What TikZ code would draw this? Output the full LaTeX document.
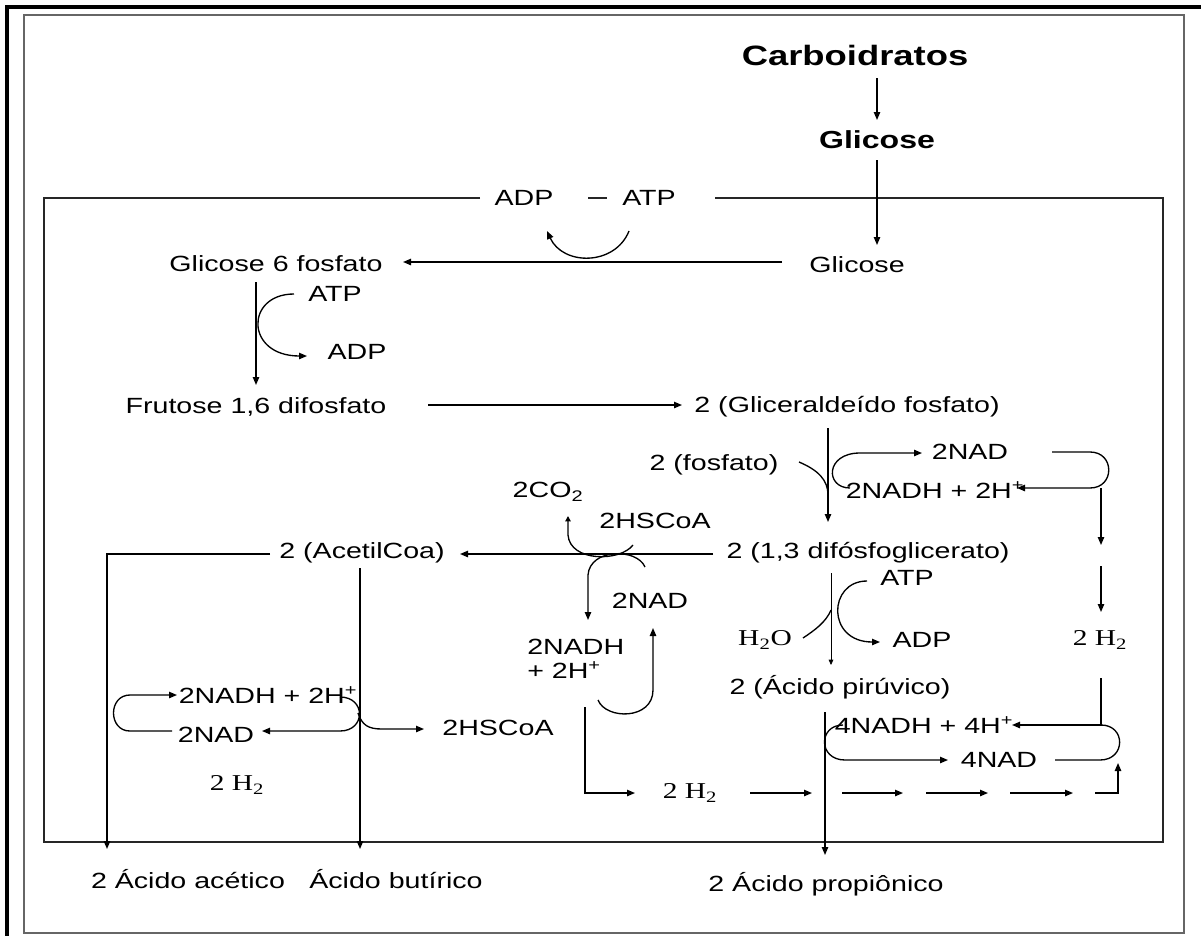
\documentclass[tikz,border=0pt]{standalone}
\usepackage{fontspec}
\setmainfont{Liberation Sans}[FakeStretch=1.3]
\newfontfamily\tnr{Liberation Serif}[FakeStretch=1.3]
\usetikzlibrary{arrows.meta}
\begin{document}
\begin{tikzpicture}[x=0.75pt,y=-0.75pt,
  lbl/.style={inner sep=0pt, font=\fontsize{16.5}{18}\selectfont},
  bigl/.style={inner sep=0pt, font=\fontsize{21}{24}\selectfont\bfseries},
  midl/.style={inner sep=0pt, font=\fontsize{18.5}{22}\selectfont\bfseries},
  srf/.style={inner sep=0pt, font=\fontsize{17}{18}\selectfont\tnr},
  ln/.style={line width=1pt},
  arr/.style={ln, -{Triangle[length=6pt,width=4.8pt]}},
  tinyarr/.style={line width=0.5pt, -{Triangle[length=4pt,width=3.5pt]}}]
\useasboundingbox (0,0) rectangle (1201,935);

% frames
\draw[line width=2.3pt] (1201,7) -- (7,7) -- (7,936);
\draw[black!60, line width=1.3pt] (24,15) rectangle (1184,933);
\draw[black!85, line width=1.1pt] (480,198) -- (44,198) -- (44,842) -- (1163,842) -- (1163,198) -- (715,198);
\draw[black!85, line width=1.1pt] (588,198) -- (607,198);

% labels
\node[bigl] (carb) at (855,55) {Carboidratos};
\node[midl] (glcb) at (877,140) {Glicose};
\node[lbl] (adp1) at (524,198) {ADP};
\node[lbl] (atp1) at (649,198) {ATP};
\node[lbl] (glc) at (857,265) {Glicose};
\node[lbl] (g6p) at (276,264) {Glicose 6 fosfato};
\node[lbl] (atp2) at (335,294) {ATP};
\node[lbl] (adp2) at (357,352) {ADP};
\node[lbl] (f16) at (256,407) {Frutose 1,6 difosfato};
\node[lbl] (gap) at (847,407) {2 (Gliceraldeído fosfato)};
\node[lbl] (fosf) at (714,465) {2 (fosfato)};
\node[lbl] (nad1) at (970,452) {2NAD};
\node[lbl] (nadh1) at (935,490) {2NADH + 2H\textsuperscript{+}};
\node[lbl] (co2) at (548,492) {2CO\textsubscript{2}};
\node[lbl] (hscoa1) at (655,521) {2HSCoA};
\node[lbl] (acoa) at (362,553) {2 (AcetilCoa)};
\node[lbl] (dpg) at (868,553) {2 (1,3 difósfoglicerato)};
\node[lbl] (atp3) at (907,578) {ATP};
\node[lbl] (nad2) at (650,601) {2NAD};
\node[srf] (h2o) at (765,640) {H\textsubscript{2}O};
\node[lbl] (adp3) at (922,640) {ADP};
\node[srf] (h2r) at (1100,640) {2 H\textsubscript{2}};
\node[lbl, anchor=west] (nadh2a) at (527,647) {2NADH};
\node[lbl, anchor=west] (nadh2b) at (527,670) {+ 2H\textsuperscript{+}};
\node[lbl] (pyr) at (840,687) {2 (Ácido pirúvico)};
\node[lbl] (nadh3) at (268,695) {2NADH + 2H\textsuperscript{+}};
\node[lbl] (nadh4) at (924,725) {4NADH + 4H\textsuperscript{+}};
\node[lbl] (hscoa2) at (498,728) {2HSCoA};
\node[lbl] (nad3) at (216,735) {2NAD};
\node[lbl] (nad4) at (999,760) {4NAD};
\node[srf] (h2l) at (237,785) {2 H\textsubscript{2}};
\node[srf] (h2m) at (690,793) {2 H\textsubscript{2}};
\node[lbl] (acet) at (188,879) {2 Ácido acético};
\node[lbl] (but) at (396,879) {Ácido butírico};
\node[lbl] (prop) at (826,884) {2 Ácido propiônico};

% waypoints of the main chain
\coordinate (c1) at (877,78);
\coordinate (c2) at (877,120);
\coordinate (c3) at (877,160);
\coordinate (c4) at (877,245);

% main chain
\draw[arr] (c1) -- (c2);
\draw[arr] (c3) -- (c4);
\draw[arr] (782,262) -- (403,262);
\draw[arr] (629,231) .. controls (615,266) and (563,266) .. (547,231);
\draw[arr] (256,282) -- (256,385);
\draw[arr] (294,294) .. controls (245,294) and (245,356) .. (307,356);
\draw[arr] (428,405) -- (682,405);
\draw[arr] (828,428) -- (828,522);
\draw[ln] (799,462) .. controls (818,470) and (828,480) .. (828,495);
\draw[arr] (850,488) .. controls (825,488) and (825,453) .. (860,453) -- (922,453);
\draw[arr] (1052,452) -- (1090,452) .. controls (1115,452) and (1115,488) .. (1090,488) -- (1017,488);
\draw[arr] (1101,488) -- (1101,545);
\draw[arr] (1101,566) -- (1101,612);
\draw[arr] (1101,678) -- (1101,725) -- (1012,725);
\draw[ln] (1101,725) .. controls (1126,725) and (1126,760) .. (1100,760) -- (1055,760);
\draw[arr] (843,725) .. controls (818,725) and (818,760) .. (845,760) -- (948,760);
\draw[arr] (825,712) -- (825,855);

% glycerate to pyruvate
\draw[tinyarr] (831,573) -- (831,665);
\draw[arr] (867,581) .. controls (828,581) and (826,642) .. (880,642);
\draw[ln] (803,638) .. controls (815,630) and (826,622) .. (831,610);

% acetyl-CoA branch
\draw[arr] (713,554) -- (460,554);
\draw[arr] (270,554) -- (107,554) -- (107,849);
\draw[arr] (360,568) -- (360,849);
\draw[ln, -{Triangle[length=4pt,width=4pt]}] (633,545) .. controls (620,562) and (570,562) .. (568,535) -- (568,516);
\draw[arr] (645,567) .. controls (637,548) and (590,548) .. (588,575) -- (588,620);
\draw[arr] (598,700) .. controls (606,720) and (653,720) .. (653,690) -- (653,628);
\draw[arr] (585,707) -- (585,793) -- (635,793);

% hydrogen flow
\draw[arr] (750,793) -- (812,793);
\draw[arr] (842,793) -- (903,793);
\draw[arr] (926,793) -- (988,793);
\draw[arr] (1010,793) -- (1073,793);
\draw[arr] (1095,793) -- (1118,793) -- (1118,763);

% butyrate loop
\draw[arr] (172,731) -- (130,731) .. controls (108,731) and (108,695) .. (130,695) -- (177,695);
\draw[arr] (340,697) .. controls (366,697) and (366,731) .. (340,731) -- (262,731);
\draw[arr] (358,713) .. controls (362,725) and (368,729) .. (382,729) -- (424,729);
\end{tikzpicture}
\end{document}
